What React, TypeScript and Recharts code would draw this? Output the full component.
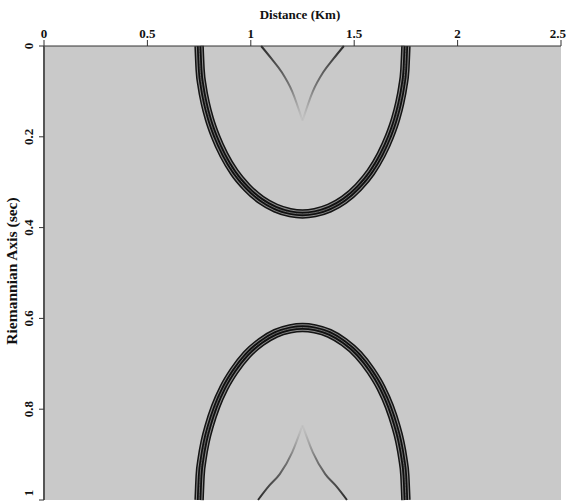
import React from "react";
import {
  ComposedChart,
  Line,
  XAxis,
  YAxis,
  CartesianGrid,
  Label,
} from "recharts";

// distance (km) ticks across the top, time (sec) ticks down the side
const distanceTicks = [0, 0.5, 1, 1.5, 2, 2.5];
const timeTicks = [0, 0.2, 0.4, 0.6, 0.8, 1];

// upper reflection, opening up from t = 0
const upperEllipse = [
  { x: 0.75, t: 0 },
  { x: 0.755, t: 0.052 },
  { x: 0.765, t: 0.09 },
  { x: 0.78, t: 0.126 },
  { x: 0.8, t: 0.161 },
  { x: 0.83, t: 0.2 },
  { x: 0.87, t: 0.24 },
  { x: 0.92, t: 0.278 },
  { x: 0.98, t: 0.311 },
  { x: 1.05, t: 0.339 },
  { x: 1.12, t: 0.357 },
  { x: 1.19, t: 0.367 },
  { x: 1.25, t: 0.37 },
  { x: 1.31, t: 0.367 },
  { x: 1.38, t: 0.357 },
  { x: 1.45, t: 0.339 },
  { x: 1.52, t: 0.311 },
  { x: 1.58, t: 0.278 },
  { x: 1.63, t: 0.24 },
  { x: 1.67, t: 0.2 },
  { x: 1.7, t: 0.161 },
  { x: 1.72, t: 0.126 },
  { x: 1.735, t: 0.09 },
  { x: 1.745, t: 0.052 },
  { x: 1.75, t: 0 },
];

// lower reflection, closing down to t = 1
const lowerEllipse = [
  { x: 0.75, t: 1 },
  { x: 0.755, t: 0.947 },
  { x: 0.765, t: 0.908 },
  { x: 0.78, t: 0.87 },
  { x: 0.8, t: 0.835 },
  { x: 0.83, t: 0.794 },
  { x: 0.87, t: 0.753 },
  { x: 0.92, t: 0.715 },
  { x: 0.98, t: 0.68 },
  { x: 1.05, t: 0.652 },
  { x: 1.12, t: 0.633 },
  { x: 1.19, t: 0.623 },
  { x: 1.25, t: 0.62 },
  { x: 1.31, t: 0.623 },
  { x: 1.38, t: 0.633 },
  { x: 1.45, t: 0.652 },
  { x: 1.52, t: 0.68 },
  { x: 1.58, t: 0.715 },
  { x: 1.63, t: 0.753 },
  { x: 1.67, t: 0.794 },
  { x: 1.7, t: 0.835 },
  { x: 1.72, t: 0.87 },
  { x: 1.735, t: 0.908 },
  { x: 1.745, t: 0.947 },
  { x: 1.75, t: 1 },
];

// faint diffraction tails
const upperTailLeft = [
  { x: 1.05, t: 0 },
  { x: 1.1, t: 0.028 },
  { x: 1.15, t: 0.058 },
  { x: 1.2, t: 0.1 },
  { x: 1.25, t: 0.165 },
];
const upperTailRight = [
  { x: 1.25, t: 0.165 },
  { x: 1.3, t: 0.1 },
  { x: 1.35, t: 0.058 },
  { x: 1.4, t: 0.028 },
  { x: 1.45, t: 0 },
];
const lowerTailLeft = [
  { x: 1.035, t: 1 },
  { x: 1.09, t: 0.968 },
  { x: 1.14, t: 0.943 },
  { x: 1.2, t: 0.895 },
  { x: 1.25, t: 0.835 },
];
const lowerTailRight = [
  { x: 1.25, t: 0.835 },
  { x: 1.3, t: 0.895 },
  { x: 1.36, t: 0.943 },
  { x: 1.41, t: 0.968 },
  { x: 1.465, t: 1 },
];

const font = "'Liberation Serif', 'Times New Roman', serif";

// the wavelet band: stacked strokes over the same path give the ringing look
const bandStrokes = [
  { color: "#141414", width: 9.5 },
  { color: "#8a8a8a", width: 6.5 },
  { color: "#101010", width: 4.5 },
  { color: "#6a6a6a", width: 1 },
];

const TimeTick = (props: any) => {
  const { x, y, payload } = props;
  const bx = x - 4;
  return (
    <text
      x={bx}
      y={y}
      transform={`rotate(-90 ${bx} ${y})`}
      textAnchor="middle"
      fontFamily={font}
      fontWeight="bold"
      fontSize={13}
      fill="#111"
    >
      {payload.value}
    </text>
  );
};

export default function App() {
  const bands = [upperEllipse, lowerEllipse];
  const tails = [
    { data: upperTailLeft, grad: "fadeDown" },
    { data: upperTailRight, grad: "fadeDown" },
    { data: lowerTailLeft, grad: "fadeUp" },
    { data: lowerTailRight, grad: "fadeUp" },
  ];
  return (
    <div style={{ position: "absolute", left: 0, top: 0 }}>
      <ComposedChart
        width={566}
        height={502}
        margin={{ top: 16, right: 5, bottom: 2, left: 14 }}
      >
        <defs>
          <linearGradient id="fadeDown" x1="0" y1="0" x2="0" y2="1">
            <stop offset="0%" stopColor="#1a1a1a" stopOpacity={0.9} />
            <stop offset="55%" stopColor="#333" stopOpacity={0.55} />
            <stop offset="100%" stopColor="#777" stopOpacity={0.05} />
          </linearGradient>
          <linearGradient id="fadeUp" x1="0" y1="1" x2="0" y2="0">
            <stop offset="0%" stopColor="#1a1a1a" stopOpacity={0.9} />
            <stop offset="55%" stopColor="#333" stopOpacity={0.55} />
            <stop offset="100%" stopColor="#777" stopOpacity={0.05} />
          </linearGradient>
        </defs>
        <CartesianGrid
          fill="#c9c9c9"
          horizontal={false}
          vertical={false}
        />
        <XAxis
          dataKey="x"
          type="number"
          orientation="top"
          domain={[0, 2.5]}
          ticks={distanceTicks}
          height={30}
          tickSize={6}
          tickMargin={2}
          axisLine={{ stroke: "#333" }}
          tickLine={{ stroke: "#333" }}
          tick={{
            fontFamily: font,
            fontWeight: "bold",
            fontSize: 13,
            fill: "#111",
          }}
          allowDuplicatedCategory={false}
        >
          <Label
            content={() => (
              <text
                x={300}
                y={19}
                textAnchor="middle"
                fontFamily={font}
                fontWeight="bold"
                fontSize={13}
                fill="#111"
              >
                Distance (Km)
              </text>
            )}
          />
        </XAxis>
        <YAxis
          dataKey="t"
          type="number"
          reversed
          domain={[0, 1]}
          ticks={timeTicks}
          width={30}
          tickSize={5}
          axisLine={{ stroke: "#555", strokeWidth: 2 }}
          tickLine={{ stroke: "#333" }}
          tick={<TimeTick />}
        >
          <Label
            content={() => (
              <text
                x={17}
                y={271}
                transform="rotate(-90 17 271)"
                textAnchor="middle"
                fontFamily={font}
                fontWeight="bold"
                fontSize={15.5}
                fill="#111"
              >
                Riemannian Axis (sec)
              </text>
            )}
          />
        </YAxis>
        {tails.map((tail, i) => (
          <Line
            key={`tail-${i}`}
            data={tail.data}
            dataKey="t"
            type="monotone"
            stroke={`url(#${tail.grad})`}
            strokeWidth={2}
            dot={false}
            activeDot={false}
            isAnimationActive={false}
          />
        ))}
        {bands.map((band, i) =>
          bandStrokes.map((s, j) => (
            <Line
              key={`band-${i}-${j}`}
              data={band}
              dataKey="t"
              type="monotone"
              stroke={s.color}
              strokeWidth={s.width}
              dot={false}
              activeDot={false}
              isAnimationActive={false}
            />
          ))
        )}
      </ComposedChart>
    </div>
  );
}
